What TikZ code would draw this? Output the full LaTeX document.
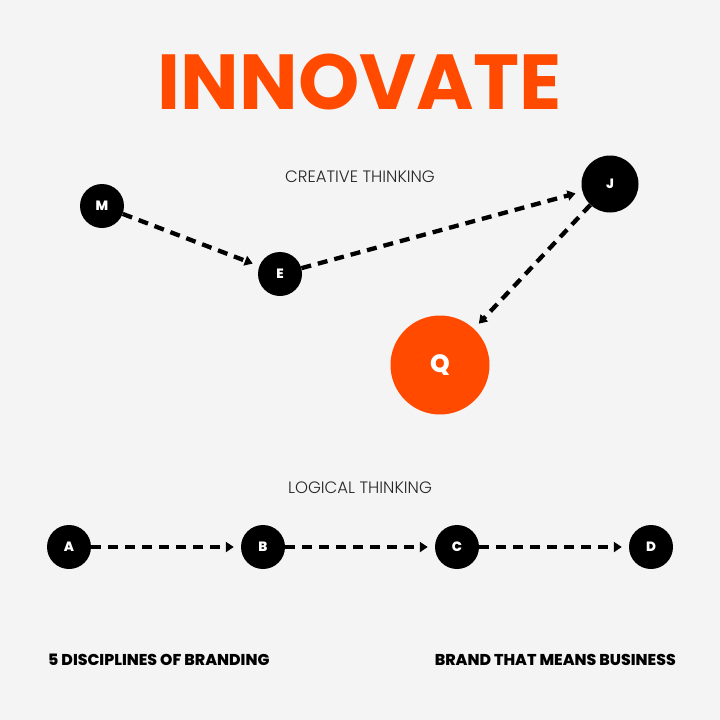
\documentclass[tikz,border=0pt]{standalone}
\usepackage{fontspec}
\setmainfont{Poppins}
\newfontfamily\lightfont{Poppins Light}
\newfontfamily\heavyfont{Poppins ExtraBold}
\usetikzlibrary{arrows.meta}
\definecolor{bg}{HTML}{F4F4F4}
\definecolor{brandorange}{HTML}{FF4A00}
\definecolor{ink}{HTML}{000000}
\tikzset{
  dot/.style={circle, fill=ink, minimum size=44pt, inner sep=0pt, text=white, font=\heavyfont\fontsize{13.5}{13.5}\selectfont},
  bigdot/.style={circle, fill=brandorange, minimum size=99pt, inner sep=0pt, text=white, font=\heavyfont\fontsize{25}{25}\selectfont},
  flow/.style={line width=4.3pt, dash pattern=on 10pt off 7pt, -{Triangle[length=8pt,width=10pt]}, shorten >=7pt},
  heading/.style={text=ink!85, font=\lightfont\fontsize{16.5}{16.5}\selectfont},
  footer/.style={text=ink, inner sep=0pt, font=\heavyfont\fontsize{15.7}{15.7}\selectfont},
}
\begin{document}
\begin{tikzpicture}[x=1pt,y=-1pt]
\fill[bg] (0,0) rectangle (720,720);
\useasboundingbox (0,0) rectangle (720,720);

\node[text=brandorange, font=\bfseries\fontsize{78}{78}\selectfont] (title) at (360,82) {INNOVATE};

\node[heading] (creative) at (360,177) {CREATIVE THINKING};
\node[heading] (logical) at (360,488) {LOGICAL THINKING};

\node[dot] (M) at (102,206) {M};
\node[dot] (E) at (280,274) {E};
\node[dot, minimum size=57pt] (J) at (610,184) {J};
\node[bigdot] (Q) at (440,365) {Q};

\draw[flow] (M) -- (E);
\draw[flow] (E) -- (J);
\draw[flow] (J) -- (Q);

\node[dot] (A) at (69,547) {A};
\node[dot] (B) at (263,547) {B};
\node[dot] (C) at (457,547) {C};
\node[dot] (D) at (651,547) {D};

\draw[flow] (A) -- (B);
\draw[flow] (B) -- (C);
\draw[flow] (C) -- (D);

\node[footer, anchor=west] (left) at (48,660) {5 DISCIPLINES OF BRANDING};
\node[footer, anchor=east] (right) at (676,660) {BRAND THAT MEANS BUSINESS};
\end{tikzpicture}
\end{document}
